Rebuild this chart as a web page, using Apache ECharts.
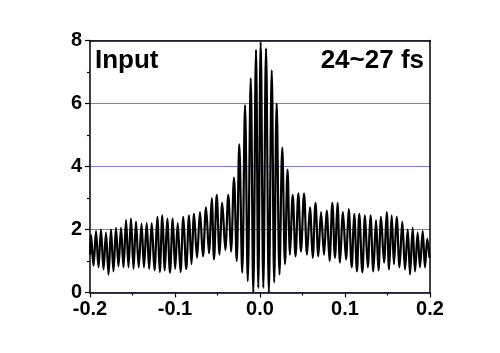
<!DOCTYPE html>
<html>
<head>
<meta charset="utf-8">
<script src="https://cdn.jsdelivr.net/npm/echarts@6/dist/echarts.min.js"></script>
<style>
  html, body { margin: 0; padding: 0; background: #fff; }
  #chart { width: 500px; height: 353px; }
</style>
</head>
<body>
<div id="chart"></div>
<script>
// fringe extrema (delay, intensity), alternating peak / trough
const delay = [
  -0.2000, -0.1988, -0.1959, -0.1929, -0.1900, -0.1871, -0.1841, -0.1812, -0.1782, -0.1753,
  -0.1724, -0.1694, -0.1665, -0.1635, -0.1606, -0.1576, -0.1547, -0.1518, -0.1488, -0.1459,
  -0.1427, -0.1394, -0.1365, -0.1333, -0.1304, -0.1274, -0.1241, -0.1208, -0.1179, -0.1149,
  -0.1120, -0.1091, -0.1059, -0.1027, -0.0998, -0.0968, -0.0935, -0.0902, -0.0868, -0.0835,
  -0.0806, -0.0776, -0.0741, -0.0706, -0.0671, -0.0635, -0.0600, -0.0568, -0.0541, -0.0509,
  -0.0476, -0.0444, -0.0408, -0.0373, -0.0341, -0.0306, -0.0274, -0.0244, -0.0209, -0.0176,
  -0.0144, -0.0109, -0.0079, -0.0047, -0.0020, 0.0008, 0.0039, 0.0071, 0.0104, 0.0138,
  0.0167, 0.0196, 0.0229, 0.0262, 0.0294, 0.0324, 0.0353, 0.0385, 0.0418, 0.0451,
  0.0482, 0.0518, 0.0553, 0.0588, 0.0620, 0.0653, 0.0686, 0.0718, 0.0753, 0.0785,
  0.0818, 0.0851, 0.0882, 0.0912, 0.0941, 0.0976, 0.1012, 0.1044, 0.1079, 0.1108,
  0.1141, 0.1168, 0.1204, 0.1235, 0.1268, 0.1300, 0.1333, 0.1365, 0.1394, 0.1424,
  0.1459, 0.1491, 0.1518, 0.1549, 0.1576, 0.1608, 0.1641, 0.1674, 0.1706, 0.1738,
  0.1765, 0.1796, 0.1824, 0.1855, 0.1882, 0.1914, 0.1941, 0.1968, 0.1994
];
const intensity = [
  1.20, 1.83, 0.85, 1.95, 0.80, 2.00, 0.73, 1.90, 0.57, 2.00,
  0.67, 2.05, 0.83, 2.05, 0.80, 2.30, 0.80, 2.35, 0.75, 2.25,
  0.80, 2.18, 0.80, 2.20, 0.75, 2.20, 0.70, 2.40, 0.65, 2.45,
  0.70, 2.35, 0.63, 2.35, 0.75, 2.20, 0.65, 2.40, 0.75, 2.45,
  0.90, 2.50, 1.10, 2.55, 1.15, 2.70, 1.25, 3.00, 1.05, 3.10,
  1.20, 2.85, 1.35, 3.10, 1.30, 3.65, 1.00, 4.70, 0.63, 5.95,
  0.36, 6.80, 0.00, 7.70, 0.15, 7.95, 0.15, 7.75, 0.00, 7.05,
  0.32, 6.00, 0.57, 4.60, 0.90, 3.90, 1.20, 3.10, 1.15, 3.15,
  1.30, 3.15, 1.20, 2.70, 1.10, 2.85, 1.15, 2.55, 1.20, 2.60,
  1.00, 2.85, 1.10, 2.85, 0.95, 2.55, 1.05, 2.65, 0.80, 2.50,
  0.67, 2.50, 0.64, 2.45, 0.80, 2.45, 0.67, 2.30, 0.70, 2.40,
  0.95, 2.55, 0.73, 2.45, 0.90, 2.40, 0.80, 2.25, 0.73, 2.00,
  0.57, 2.05, 0.67, 1.90, 0.80, 1.95, 0.80, 1.70, 1.10
];
const xTicks = { min: -0.2, max: 0.2, step: 0.1 };
const yTicks = { min: 0, max: 8, step: 2 };
const labelLeft = 'Input';
const labelRight = '24~27 fs';

const chart = echarts.init(document.getElementById('chart'), null, { renderer: 'canvas' });
const font = 'Liberation Sans, Arial, sans-serif';
const gridColor = '#7a7ae6';

chart.setOption({
  animation: false,
  backgroundColor: '#fff',
  grid: { left: 90, right: 70, top: 40.5, bottom: 60.5 },
  graphic: [
    { type: 'text', left: 95, top: 48, z: 10, style: { text: labelLeft, font: 'bold 26px ' + font, fill: '#000' } },
    { type: 'text', right: 76, top: 48, z: 10, style: { text: labelRight, font: 'bold 26px ' + font, fill: '#000' } }
  ],
  xAxis: [{
    type: 'value', min: xTicks.min, max: xTicks.max, interval: xTicks.step,
    axisLine: { onZero: false, lineStyle: { color: '#000', width: 1.5 } },
    axisTick: { inside: false, length: 5, lineStyle: { color: '#000', width: 1.2 } },
    minorTick: { show: true, splitNumber: 2, length: 3, lineStyle: { color: '#000', width: 1.2 } },
    axisLabel: { color: '#000', fontSize: 20, fontWeight: 'bold', fontFamily: font, margin: 7,
      formatter: v => v.toFixed(1) },
    splitLine: { show: false }
  }, {
    type: 'value', position: 'top', min: xTicks.min, max: xTicks.max,
    axisLine: { onZero: false, lineStyle: { color: '#000', width: 1.5 } },
    axisTick: { show: false }, axisLabel: { show: false }, splitLine: { show: false }
  }],
  yAxis: [{
    type: 'value', min: yTicks.min, max: yTicks.max, interval: yTicks.step,
    axisLine: { show: true, onZero: false, lineStyle: { color: '#000', width: 1.5 } },
    axisTick: { show: true, inside: false, length: 5, lineStyle: { color: '#000', width: 1.2 } },
    minorTick: { show: true, splitNumber: 2, length: 3, lineStyle: { color: '#000', width: 1.2 } },
    axisLabel: { color: '#000', fontSize: 20, fontWeight: 'bold', fontFamily: font, margin: 8 },
    splitLine: { show: true, lineStyle: { color: gridColor, width: 1 } }
  }, {
    type: 'value', position: 'right', min: yTicks.min, max: yTicks.max,
    axisLine: { show: true, onZero: false, lineStyle: { color: '#000', width: 1.5 } },
    axisTick: { show: false }, axisLabel: { show: false }, splitLine: { show: false }
  }],
  series: [{
    type: 'line',
    data: delay.map((d, i) => [d, intensity[i]]),
    showSymbol: false,
    smooth: 0.35,
    clip: true,
    lineStyle: { color: '#000', width: 2.2 }
  }]
});
</script>
</body>
</html>
